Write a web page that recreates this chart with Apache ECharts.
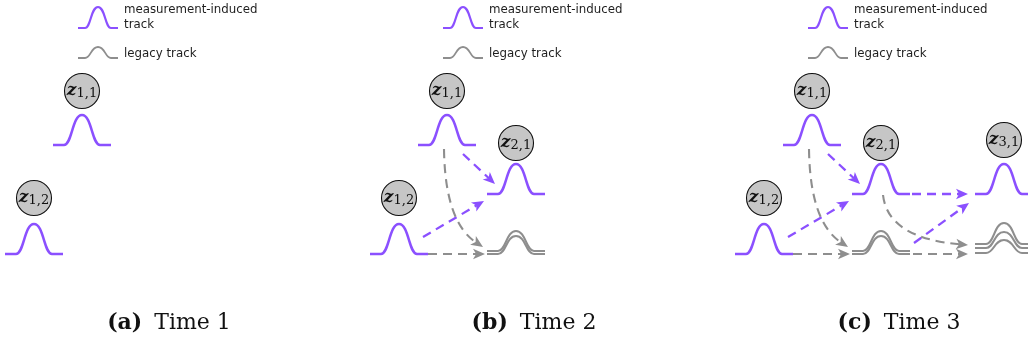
<!DOCTYPE html>
<html>
<head>
<meta charset="utf-8">
<script src="https://cdn.jsdelivr.net/npm/echarts@6/dist/echarts.min.js"></script>
<style>
  html, body { margin: 0; padding: 0; background: #ffffff; }
  #chart { width: 1028px; height: 347px; }
</style>
</head>
<body>
<div id="chart"></div>
<script>
// ---- Panels: one per time step ----
const panelTimes = [1, 2, 3];
const panelTags = ['(a)', '(b)', '(c)'];
const panelTitles = ['Time 1', 'Time 2', 'Time 3'];
const legendLabels = ['measurement-induced\ntrack', 'legacy track'];

// ---- Track nodes z_{t,k} (panel-local coordinates) ----
const nodeSubscripts = ['1,1', '1,2', '2,1', '3,1'];
const nodeTimes = [1, 1, 2, 3];
const nodeX = [82, 34, 151, 274];
const nodeY = [91, 198, 143, 140];
// density sketched under each node: baseline y and peak height
const nodeDensityBase = [145, 254, 194, 194];
const nodeDensityHeight = [30, 30, 30, 30];

// ---- Legacy track densities (panel-local) ----
const legacyTimes = [2, 2, 3, 3, 3];
const legacyX = [151, 151, 274, 274, 274];
const legacyBase = [251, 254, 244, 248, 253];
const legacyHeight = [20, 18, 21, 16, 13];

// ---- Transitions between time steps (panel-local) ----
// kind: 'm' = measurement-induced (purple), 'l' = legacy (gray)
const edgeTimes = [2, 2, 2, 2, 3, 3, 3, 3];
const edgeKinds = ['m', 'm', 'l', 'l', 'm', 'm', 'l', 'l'];
const edgeFrom = [[98, 154], [58, 237], [63, 254], [79, 149], [182, 194], [184, 243], [183, 254], [153, 195]];
const edgeTo = [[130, 184], [119, 201], [120, 254], [118, 247], [238, 194], [239, 203], [238, 254], [238, 245]];
// bend point for curved transitions (null = straight)
const edgeBend = [null, null, null, [80, 222], null, null, null, [158, 238]];

// ---- Layout & style ----
const W = 1028, H = 347;
const PANEL_STEP = 365;
const PURPLE = '#8b50ff';
const GRAY = '#8e8e8e';
const LEGEND = { glyphX: 98, glyphMeasuredBase: 28, glyphMeasuredH: 21, glyphLegacyBase: 58, glyphLegacyH: 11,
                 textX: 124, textY1: 2, textY2: 54 };
const CAPTION = { cx: 169, cy: 323 };

// ---- Build series data ----
const measuredData = [], legacyData = [], nodeData = [], straightEdges = [], curvedEdges = [];
const legendMeasured = [], legendLegacy = [];
panelTimes.forEach((t, p) => {
  const dx = p * PANEL_STEP;
  nodeSubscripts.forEach((s, i) => {
    if (nodeTimes[i] > t) return;
    nodeData.push([nodeX[i] + dx, nodeY[i], s]);
    measuredData.push([nodeX[i] + dx, nodeDensityBase[i], nodeDensityHeight[i]]);
  });
  legacyX.forEach((x, i) => {
    if (legacyTimes[i] > t) return;
    legacyData.push([x + dx, legacyBase[i], legacyHeight[i]]);
  });
  edgeTimes.forEach((et, i) => {
    if (et > t) return;
    const k = edgeKinds[i] === 'm' ? 0 : 1;
    const a = edgeFrom[i], b = edgeTo[i], c = edgeBend[i];
    if (c) curvedEdges.push([a[0] + dx, a[1], b[0] + dx, b[1], c[0] + dx, c[1], k]);
    else straightEdges.push([a[0] + dx, a[1], b[0] + dx, b[1], k]);
  });
  legendMeasured.push([LEGEND.glyphX + dx, LEGEND.glyphMeasuredBase, LEGEND.glyphMeasuredH]);
  legendLegacy.push([LEGEND.glyphX + dx, LEGEND.glyphLegacyBase, LEGEND.glyphLegacyH]);
});

// Bell-shaped density glyph with flat tails
function bumpSeries(data, color, lineWidth, halfSpan, halfBell) {
  return {
    type: 'custom',
    coordinateSystem: 'cartesian2d',
    clip: false,
    silent: true,
    data: data,
    renderItem: function (params, api) {
      const foot = api.coord([api.value(0), api.value(1)]);
      const peak = api.coord([api.value(0), api.value(1) - api.value(2)]);
      const x = foot[0], y = foot[1], yt = peak[1];
      const hs = halfSpan, hb = halfBell;
      const d = 'M' + (x - hs) + ',' + y + ' L' + (x - hb) + ',' + y +
        ' C' + (x - hb * 0.55) + ',' + y + ' ' + (x - hb * 0.55) + ',' + yt + ' ' + x + ',' + yt +
        ' C' + (x + hb * 0.55) + ',' + yt + ' ' + (x + hb * 0.55) + ',' + y + ' ' + (x + hb) + ',' + y +
        ' L' + (x + hs) + ',' + y;
      return {
        type: 'path',
        shape: { pathData: d },
        style: { fill: 'none', stroke: color, lineWidth: lineWidth, lineJoin: 'round' }
      };
    }
  };
}

// Dashed transition with a stealth-style arrowhead
function edgeSeries(data, curved) {
  return {
    type: 'custom',
    coordinateSystem: 'cartesian2d',
    clip: false,
    silent: true,
    data: data,
    renderItem: function (params, api) {
      const p1 = api.coord([api.value(0), api.value(1)]);
      const p2 = api.coord([api.value(2), api.value(3)]);
      const q = curved ? api.coord([api.value(4), api.value(5)]) : null;
      const kind = api.value(curved ? 6 : 4);
      const color = kind === 0 ? PURPLE : GRAY;
      const ref = q || p1;
      let ux = p2[0] - ref[0], uy = p2[1] - ref[1];
      const len = Math.sqrt(ux * ux + uy * uy);
      ux /= len; uy /= len;
      const nx = -uy, ny = ux;
      const L = 12, Wd = 10.5;
      const ex = p2[0] - ux * L * 0.7, ey = p2[1] - uy * L * 0.7;
      const bx = p2[0] - ux * L, by = p2[1] - uy * L;
      const lineStyle = { stroke: color, lineWidth: kind === 0 ? 2.3 : 2.1, lineDash: [9, 6], fill: 'none' };
      const body = curved
        ? { type: 'bezierCurve', shape: { x1: p1[0], y1: p1[1], x2: ex, y2: ey, cpx1: q[0], cpy1: q[1] }, style: lineStyle }
        : { type: 'line', shape: { x1: p1[0], y1: p1[1], x2: ex, y2: ey }, style: lineStyle };
      const head = {
        type: 'polygon',
        shape: { points: [
          [p2[0], p2[1]],
          [bx + nx * Wd / 2, by + ny * Wd / 2],
          [p2[0] - ux * L * 0.74, p2[1] - uy * L * 0.74],
          [bx - nx * Wd / 2, by - ny * Wd / 2]
        ] },
        style: { fill: color }
      };
      return { type: 'group', children: [body, head] };
    }
  };
}

const chart = echarts.init(document.getElementById('chart'), null, { renderer: 'canvas' });

const graphics = [];
panelTimes.forEach((t, p) => {
  const dx = p * PANEL_STEP;
  graphics.push({
    type: 'text', left: LEGEND.textX + dx, top: LEGEND.textY1, silent: true,
    style: { text: legendLabels[0], font: '11.8px "DejaVu Sans"', fill: '#1e1e1e', lineHeight: 15 }
  });
  graphics.push({
    type: 'text', left: LEGEND.textX + dx, top: LEGEND.textY2 - 7.5, silent: true,
    style: { text: legendLabels[1], font: '11.8px "DejaVu Sans"', fill: '#1e1e1e', lineHeight: 15 }
  });
  graphics.push({
    type: 'text', x: CAPTION.cx + dx, y: CAPTION.cy, silent: true,
    style: {
      text: '{b|' + panelTags[p] + '}{n|' + panelTitles[p] + '}',
      align: 'center', verticalAlign: 'middle',
      rich: {
        b: { fontFamily: 'DejaVu Serif', fontWeight: 'bold', fontSize: 22, fill: '#111', padding: [0, 12, 0, 0] },
        n: { fontFamily: 'DejaVu Serif', fontSize: 22, fill: '#111' }
      }
    }
  });
});

chart.setOption({
  animation: false,
  backgroundColor: '#ffffff',
  grid: { left: 0, right: 0, top: 0, bottom: 0 },
  xAxis: { type: 'value', min: 0, max: W, show: false },
  yAxis: { type: 'value', min: 0, max: H, inverse: true, show: false },
  graphic: graphics,
  series: [
    bumpSeries(legendMeasured, PURPLE, 2.2, 20, 13),
    bumpSeries(legendLegacy, GRAY, 1.8, 20, 13),
    edgeSeries(straightEdges, false),
    edgeSeries(curvedEdges, true),
    bumpSeries(legacyData, GRAY, 2.1, 29, 18),
    bumpSeries(measuredData, PURPLE, 2.5, 29, 18),
    {
      type: 'scatter',
      silent: true,
      data: nodeData,
      symbol: 'circle',
      symbolSize: 35,
      itemStyle: { color: '#c6c6c6', borderColor: '#111111', borderWidth: 1.1, opacity: 1 },
      label: {
        show: true,
        position: 'inside',
        formatter: function (p) { return '{z|z}{s|' + p.value[2] + '}'; },
        rich: {
          z: { fontFamily: 'DejaVu Serif', fontStyle: 'italic', fontWeight: 'bold', fontSize: 17, color: '#111' },
          s: { fontFamily: 'DejaVu Serif', fontSize: 13, color: '#111', padding: [5, 0, 0, 0] }
        }
      }
    }
  ]
});
</script>
</body>
</html>
